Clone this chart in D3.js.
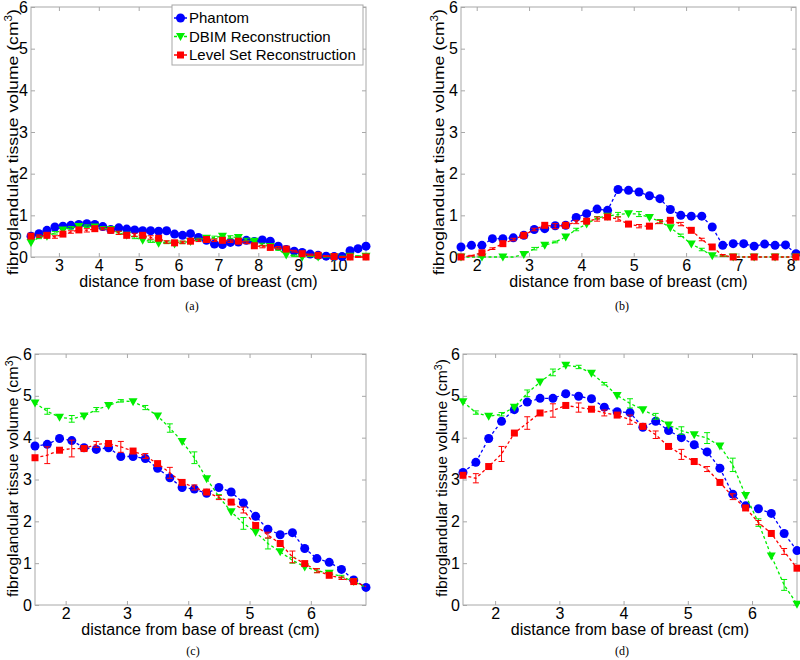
<!DOCTYPE html>
<html>
<head>
<meta charset="utf-8">
<script src="https://cdn.jsdelivr.net/npm/d3@7"></script>
<style>
  body { margin: 0; background: #fff; }
  svg text { font-family: "Liberation Sans", Arial, sans-serif; fill: #000; }
  .caption { font-family: "Liberation Serif", "Times New Roman", serif !important; }
</style>
</head>
<body>
<div id="chart"></div>
<script>
// series names, shared y ticks
const seriesNames = ["Phantom", "DBIM Reconstruction", "Level Set Reconstruction"];
const yTicks = [0, 1, 2, 3, 4, 5, 6];

// (a)
const distA = [2.3,2.5,2.7,2.9,3.1,3.3,3.5,3.7,3.9,4.1,4.3,4.5,4.7,4.9,5.1,5.3,5.5,5.7,5.9,6.1,6.3,6.5,6.7,6.9,7.1,7.3,7.5,7.7,7.9,8.1,8.3,8.5,8.7,8.9,9.1,9.3,9.5,9.7,9.9,10.1,10.3,10.5,10.7];
const phantomA = [0.50,0.56,0.64,0.72,0.74,0.76,0.78,0.80,0.78,0.73,0.66,0.70,0.67,0.65,0.63,0.63,0.62,0.63,0.55,0.52,0.56,0.47,0.40,0.31,0.30,0.35,0.36,0.40,0.37,0.41,0.38,0.26,0.18,0.14,0.11,0.07,0.04,0.02,0.01,0.01,0.15,0.20,0.26];
const dbimA = [0.35,0.47,0.50,0.58,0.65,0.70,0.73,0.74,0.72,0.70,0.66,0.58,0.52,0.47,0.40,0.38,0.33,0.35,0.31,0.35,0.37,0.42,0.45,0.47,0.50,0.48,0.47,0.42,0.38,0.30,0.25,0.18,0.05,0.03,0.00,0.02,0.00,0.01,0.00,0.01,0.02,0.02,0.02];
const dbimErrA = [0,0.03,0,0.03,0,0.03,0,0.03,0,0.03,0,0.03,0,0.03,0,0.03,0,0.03,0,0.03,0,0.03,0,0.03,0,0.03,0,0.03,0,0.03,0,0.02,0,0.02,0,0.01,0,0.01,0,0.01,0,0.01,0];
const levelSetA = [0.50,0.50,0.52,0.48,0.55,0.60,0.65,0.64,0.68,0.68,0.64,0.58,0.52,0.53,0.52,0.47,0.45,0.36,0.34,0.35,0.38,0.40,0.42,0.40,0.40,0.38,0.38,0.35,0.27,0.25,0.23,0.22,0.19,0.14,0.08,0.05,0.04,0.02,0.01,0.00,0.00,0.00,0.00];
const levelSetErrA = [0,0.03,0,0.03,0,0.03,0,0.04,0,0.03,0,0.04,0,0.04,0,0.04,0,0.03,0,0.03,0,0.03,0,0.03,0,0.03,0,0.03,0,0.03,0,0.03,0,0.02,0,0.02,0,0.01,0,0.01,0,0.01,0];
const xTicksA = [3, 4, 5, 6, 7, 8, 9, 10];

// (b)
const distB = [1.7,1.9,2.1,2.3,2.5,2.7,2.9,3.1,3.3,3.5,3.7,3.9,4.1,4.3,4.5,4.7,4.9,5.1,5.3,5.5,5.7,5.9,6.1,6.3,6.5,6.7,6.9,7.1,7.3,7.5,7.7,7.9,8.1];
const phantomB = [0.24,0.28,0.28,0.44,0.44,0.46,0.52,0.66,0.68,0.75,0.76,0.95,1.04,1.15,1.12,1.62,1.60,1.56,1.47,1.40,1.14,1.00,0.98,0.98,0.72,0.28,0.32,0.32,0.26,0.31,0.28,0.29,0.08];
const dbimB = [0,0,0,0,0,0,0.06,0.20,0.28,0.36,0.48,0.66,0.79,0.94,0.98,1.02,1.04,1.03,0.95,0.86,0.70,0.52,0.31,0.18,0.03,0.02,0,0,0,0,0,0,0];
const dbimErrB = [0,0,0,0,0,0,0,0.03,0,0.02,0,0.03,0,0.03,0,0.05,0,0.06,0,0.04,0,0.03,0,0.03,0,0.01,0,0,0,0,0,0,0];
const levelSetB = [0,0.03,0.10,0.20,0.32,0.42,0.52,0.66,0.76,0.74,0.76,0.84,0.86,0.91,0.96,0.91,0.79,0.74,0.74,0.84,0.88,0.79,0.64,0.42,0.24,0.04,0,0,0,0,0,0,0];
const levelSetErrB = [0,0.01,0,0.02,0,0.03,0,0.03,0,0.06,0,0.04,0,0.05,0,0.05,0,0.04,0,0.04,0,0.04,0,0.03,0,0.02,0,0,0,0,0,0,0];
const xTicksB = [2, 3, 4, 5, 6, 7, 8];

// (c)
const distC = [1.5,1.7,1.9,2.1,2.3,2.5,2.7,2.9,3.1,3.3,3.5,3.7,3.9,4.1,4.3,4.5,4.7,4.9,5.1,5.3,5.5,5.7,5.9,6.1,6.3,6.5,6.7,6.9];
const phantomC = [3.80,3.84,3.98,3.93,3.76,3.72,3.76,3.55,3.55,3.50,3.27,3.04,2.81,2.77,2.67,2.81,2.70,2.44,2.12,1.81,1.68,1.73,1.35,1.11,1.02,0.85,0.60,0.42];
const dbimC = [4.83,4.63,4.49,4.45,4.52,4.67,4.77,4.88,4.86,4.72,4.52,4.23,3.91,3.52,3.02,2.59,2.23,1.95,1.74,1.47,1.27,1.07,0.91,0.82,0.76,0.68,0.56,0.42];
const dbimErrC = [0,0.07,0,0.08,0,0.05,0,0.03,0,0.05,0,0.10,0,0.14,0,0.05,0,0.14,0,0.13,0,0.07,0,0.04,0,0.03,0,0];
const levelSetC = [3.52,3.58,3.70,3.74,3.74,3.84,3.86,3.78,3.68,3.56,3.38,3.16,2.93,2.81,2.70,2.57,2.46,2.27,1.90,1.67,1.47,1.15,0.99,0.82,0.71,0.64,0.56,0.44];
const levelSetErrC = [0,0.20,0,0.20,0,0.07,0,0.13,0,0.06,0,0.13,0,0.06,0,0.05,0,0.07,0,0.07,0,0.14,0,0.05,0,0.03,0,0];
const xTicksC = [2, 3, 4, 5, 6];

// (d)
const distD = [1.5,1.7,1.9,2.1,2.3,2.5,2.7,2.9,3.1,3.3,3.5,3.7,3.9,4.1,4.3,4.5,4.7,4.9,5.1,5.3,5.5,5.7,5.9,6.1,6.3,6.5,6.7];
const phantomD = [3.17,3.41,3.98,4.39,4.67,4.85,4.94,4.94,5.05,4.99,4.93,4.73,4.62,4.60,4.25,4.39,4.17,4.00,3.83,3.66,3.27,2.65,2.37,2.30,2.19,1.71,1.30];
const dbimD = [4.86,4.60,4.51,4.56,4.73,5.06,5.33,5.56,5.73,5.69,5.54,5.29,5.01,4.82,4.67,4.51,4.30,4.17,4.07,3.99,3.80,3.35,2.62,1.97,1.17,0.48,0.02];
const dbimErrD = [0,0.04,0,0.04,0,0.08,0,0.08,0,0.04,0,0.03,0,0.11,0,0.07,0,0.09,0,0.13,0,0.16,0,0.09,0,0.13,0];
const levelSetD = [3.10,3.03,3.31,3.61,4.11,4.35,4.59,4.65,4.77,4.72,4.68,4.59,4.54,4.43,4.27,4.07,3.79,3.60,3.43,3.25,2.93,2.59,2.32,1.97,1.71,1.28,0.88];
const levelSetErrD = [0,0.11,0,0.18,0,0.15,0,0.16,0,0.11,0,0.07,0,0.11,0,0.09,0,0.12,0,0.06,0,0.07,0,0.05,0,0.07,0];
const xTicksD = [2, 3, 4, 5, 6];

const colors = ["#0000ff", "#00ee00", "#ff0000"];
const axisGrey = "#a8a8a8";

const width = 800, height = 660;
const svg = d3.select("#chart").append("svg")
    .attr("width", width)
    .attr("height", height);

// panel boxes (pixel layout); ylab* = where the rotated y label sits and how long it is
const panels = [
  { label: "(a)", dist: distA, series: [phantomA, dbimA, levelSetA], errs: [null, dbimErrA, levelSetErrA], xTicks: xTicksA,
    x0: 31, x1: 366, y0: 7, y1: 257, ylabX: 18, ylabY: 142, ylabLen: 266, capX: 192, capY: 310, legend: true },
  { label: "(b)", dist: distB, series: [phantomB, dbimB, levelSetB], errs: [null, dbimErrB, levelSetErrB], xTicks: xTicksB,
    x0: 461, x1: 796, y0: 7, y1: 257, ylabX: 444, ylabY: 142, ylabLen: 266, capX: 622, capY: 310 },
  { label: "(c)", dist: distC, series: [phantomC, dbimC, levelSetC], errs: [null, dbimErrC, levelSetErrC], xTicks: xTicksC,
    x0: 35, x1: 366, y0: 354, y1: 605, ylabX: 18, ylabY: 476, ylabLen: 242, capX: 193, capY: 655 },
  { label: "(d)", dist: distD, series: [phantomD, dbimD, levelSetD], errs: [null, dbimErrD, levelSetErrD], xTicks: xTicksD,
    x0: 463, x1: 797, y0: 354, y1: 605, ylabX: 447, ylabY: 478, ylabLen: 238, capX: 622, capY: 655 }
];

function drawMarker(g, k, cx, cy) {
  if (k === 0) {
    g.append("circle").attr("cx", cx).attr("cy", cy).attr("r", 4.5).attr("fill", colors[0]);
  } else if (k === 1) {
    g.append("path").attr("d", `M${cx-4.5},${cy-3.5}L${cx+4.5},${cy-3.5}L${cx},${cy+4.5}Z`).attr("fill", colors[1]);
  } else {
    g.append("rect").attr("x", cx - 3.5).attr("y", cy - 3.5).attr("width", 7).attr("height", 7).attr("fill", colors[2]);
  }
}

const fmt = d3.format("d");

panels.forEach(p => {
  const g = svg.append("g");
  const x = d3.scaleLinear().domain([p.dist[0], p.dist[p.dist.length - 1]]).range([p.x0, p.x1]);
  const y = d3.scaleLinear().domain([0, 6]).range([p.y1, p.y0]);

  // box
  g.append("rect")
    .attr("x", p.x0).attr("y", p.y0)
    .attr("width", p.x1 - p.x0).attr("height", p.y1 - p.y0)
    .attr("fill", "none").attr("stroke", axisGrey).attr("stroke-width", 1);

  // axes, ticks pointing inward
  const xb = g.append("g").attr("transform", `translate(0,${p.y1})`)
    .call(d3.axisBottom(x).tickValues(p.xTicks).tickFormat(fmt).tickSize(-4).tickPadding(3));
  const xt = g.append("g").attr("transform", `translate(0,${p.y0})`)
    .call(d3.axisTop(x).tickValues(p.xTicks).tickSize(-4).tickFormat(""));
  const yl = g.append("g").attr("transform", `translate(${p.x0},0)`)
    .call(d3.axisLeft(y).tickValues(yTicks).tickFormat(fmt).tickSize(-4).tickPadding(3));
  const yr = g.append("g").attr("transform", `translate(${p.x1},0)`)
    .call(d3.axisRight(y).tickValues(yTicks).tickSize(-4).tickFormat(""));
  [xb, xt, yl, yr].forEach(a => {
    a.select(".domain").remove();
    a.selectAll(".tick line").attr("stroke", axisGrey);
    a.selectAll(".tick text").attr("fill", "#000");
  });
  xb.selectAll(".tick text").style("font-size", "16px");
  yl.selectAll(".tick text").style("font-size", "16px");

  // lines, error bars, markers
  const line = d3.line().x(d => x(d[0])).y(d => y(d[1]));
  p.series.forEach((vals, k) => {
    const pts = p.dist.map((d, i) => [d, vals[i]]);
    g.append("path").datum(pts)
      .attr("d", line)
      .attr("fill", "none")
      .attr("stroke", colors[k])
      .attr("stroke-width", 1.3)
      .attr("stroke-dasharray", "3,2.5");

    const err = p.errs[k];
    if (err) {
      p.dist.forEach((d, i) => {
        if (!err[i]) return;
        const cx = x(d), ya = y(vals[i] + err[i]), yb = y(vals[i] - err[i]);
        const path = `M${cx},${ya}L${cx},${yb}M${cx-3},${ya}L${cx+3},${ya}M${cx-3},${yb}L${cx+3},${yb}`;
        g.append("path").attr("d", path).attr("stroke", colors[k]).attr("stroke-width", 1).attr("fill", "none");
      });
      p.dist.forEach((d, i) => { if (i % 2 === 0) drawMarker(g, k, x(d), y(vals[i])); });
    } else {
      p.dist.forEach((d, i) => drawMarker(g, k, x(d), y(vals[i])));
    }
  });

  // axis labels
  g.append("text")
    .attr("x", (p.x0 + p.x1) / 2).attr("y", p.y1 + 30)
    .attr("text-anchor", "middle").style("font-size", "16px")
    .text("distance from base of breast (cm)");

  const ylab = g.append("text")
    .attr("text-anchor", "middle").style("font-size", "15px");
  ylab.append("tspan").text("fibroglandular tissue volume (cm");
  ylab.append("tspan").attr("baseline-shift", "super").style("font-size", "10px").text("3");
  ylab.append("tspan").text(")");
  const natural = ylab.node().getComputedTextLength();
  ylab.attr("transform", `translate(${p.ylabX},${p.ylabY}) rotate(-90) scale(${p.ylabLen / natural},1)`);

  g.append("text").attr("class", "caption")
    .attr("x", p.capX).attr("y", p.capY)
    .attr("text-anchor", "middle").style("font-size", "12px")
    .text(p.label);

  if (p.legend) {
    const lg = g.append("g");
    lg.append("rect").attr("x", 172).attr("y", 5).attr("width", 191).attr("height", 60)
      .attr("fill", "#fff").attr("stroke", axisGrey);
    seriesNames.forEach((name, k) => {
      const ly = 18 + k * 18.5;
      lg.append("line").attr("x1", 174).attr("x2", 187).attr("y1", ly).attr("y2", ly)
        .attr("stroke", colors[k]).attr("stroke-width", 1.3).attr("stroke-dasharray", "3,2");
      drawMarker(lg, k, 180.5, ly);
      lg.append("text").attr("x", 189).attr("y", ly + 5).style("font-size", "15px").text(name);
    });
  }
});
</script>
</body>
</html>
